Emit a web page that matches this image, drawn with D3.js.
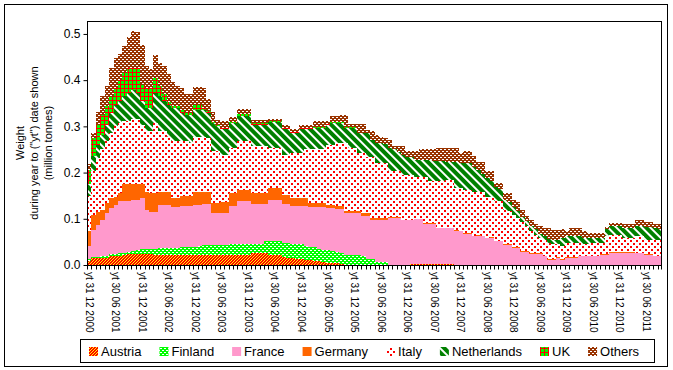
<!DOCTYPE html>
<html lang="en">
<head>
<meta charset="UTF-8">
<title>Weight during year to date</title>
<script src="https://cdn.jsdelivr.net/npm/d3@7"></script>
<style>
    body { margin: 0; background: #fff; }
    text { font-family: Arial, "Liberation Sans", sans-serif; fill: #000; }
</style>
</head>
<body>
<div id="chart"></div>
<script>
    // monthly values in thousand tonnes, yt Dec 2000 .. yt Sep 2011 (130 months)
    var austria = [9,15,15,15,15,20,20,20,21,24,24,24,24,
        24,23,22,22,22,22,22,22,22,22,22,22,22,22,22,
        22,22,22,22,22,22,22,22,22,
        26,26,26,26,
        21,21,21,
        18,16,15,14,13,11,10,9,8,6,
        4,4,4,3,
        0,0,0,0,0,0,0,0,0,0,0,0,0,0,0,
        3,3,3,3,3,3,3,3,3,3,
        0,0,0,0,0,0,0,0,0,0,
        0,0,0,0,0,0,0,0,0,0,
        0,0,0,0,0,0,0,0,0,0,
        0,0,0,0,0,0,0,0,0,0,
        0,0,0,0,0,0,0];
    var finland = [3,3,3,4,4,4,4,5,5,5,6,9,11,
        11,12,13,14,14,15,15,15,16,16,16,18,20,22,22,
        22,22,22,22,
        24,24,24,24,24,
        20,20,20,
        25,
        30,30,30,
        30,32,31,32,32,31,30,29,27,27,
        28,26,24,23,
        22,22,22,22,
        19,13,13,6,6,6,
        0,0,0,0,0,0,0,0,0,0,
        0,0,0,0,0,0,0,0,0,0,
        0,0,0,0,0,0,0,0,0,0,
        0,0,0,0,0,0,0,0,0,0,
        0,0,0,0,0,0,0,0,0,0,
        0,0,0,0,0,0,0,0,0,0,
        0,0];
    var france = [30,58,69,79,93,99,106,113,112,109,110,107,111,
        85,80,80,94,94,93,88,88,89,89,89,90,88,88,89,
        69,69,69,69,
        82,82,
        92,92,92,
        87,87,87,
        82,
        89,89,89,
        85,85,82,82,83,86,86,88,91,93,
        91,93,94,96,
        91,91,91,91,
        86,92,85,92,92,92,
        102,102,102,97,97,
        94,96,96,86,86,86,77,77,77,77,
        73,73,68,68,62,62,62,58,58,51,51,
        44,44,37,37,29,29,24,24,24,19,11,11,16,
        11,16,16,16,19,19,19,19,19,22,22,27,27,27,27,27,27,26,26,22,22,19,19];
    var germany = [32,33,28,22,22,22,18,18,37,37,35,35,30,
        39,41,41,29,29,29,20,20,23,23,23,29,29,27,24,
        21,21,23,23,
        28,28,
        25,25,25,
        23,23,23,23,
        27,27,27,
        19,19,17,17,17,17,8,8,8,8,
        7,7,6,6,
        4,4,4,4,
        8,8,4,4,4,4,
        1,1,1,1,1,1,1,1,1,1,1,1,1,1,1,
        2,1,1,2,1,2,1,1,2,1,1,
        1,1,1,1,1,1,1,1,1,1,
        1,1,1,1,1,1,1,1,1,1,
        1,1,1,1,1,1,1,1,1,1,
        1,1,1,1,1,1];
    var italy = [76,94,117,130,134,141,152,151,136,136,142,142,128,
        130,133,151,130,130,119,123,123,118,118,115,119,119,119,118,
        112,112,103,103,
        97,97,
        105,105,105,
        101,101,101,101,
        86,86,86,
        87,87,97,97,97,105,116,116,116,116,
        130,130,136,136,
        147,136,136,125,
        129,121,132,119,119,119,
        100,100,100,97,97,
        97,90,90,100,91,91,100,100,104,104,
        92,93,94,93,96,95,96,89,88,86,86,
        73,71,71,64,62,54,49,41,33,34,36,34,29,
        30,31,31,31,28,26,26,27,27,24,39,38,38,38,30,30,30,35,35,32,32,35,35];
    var netherlands = [25,32,28,32,36,43,47,47,54,61,62,55,50,
        51,51,65,76,65,69,72,72,61,57,60,58,58,58,55,
        61,54,55,55,
        54,54,
        55,55,55,
        47,47,47,47,
        56,56,56,
        55,55,44,44,52,44,44,47,47,47,
        44,47,43,43,
        33,44,44,44,
        44,52,37,44,44,41,
        50,47,42,43,39,
        39,38,38,38,47,43,43,43,37,37,
        55,54,58,58,53,47,37,40,33,30,26,
        22,20,16,14,12,11,11,11,10,9,9,9,9,
        16,14,14,14,14,12,12,11,11,11,16,19,19,19,22,22,22,23,23,28,28,25,23];
    var uk = [30,40,44,43,39,34,36,47,51,54,47,54,36,
        43,43,33,22,15,5,5,5,6,5,5,11,11,4,3,
        3,2,
        3,3,3,3,3,3,3,3,3,3,3,3,3,3,3,3,
        2,2,2,2,2,2,2,2,2,2,2,2,2,2,2,
        0,0,0,0,0,0,0,0,0,0,
        0,0,0,0,0,0,0,0,0,0,
        0,0,0,0,0,0,0,0,0,0,
        0,0,0,0,0,0,0,0,0,0,
        0,0,0,0,0,0,0,0,0,0,
        0,0,0,0,0,0,0,0,0,0,
        0,0,0,0,0,0,0,0,0];
    var others = [14,11,27,40,44,63,65,56,57,67,80,78,85,
        47,42,50,50,61,61,52,42,48,39,39,39,39,43,27,
        22,11,14,14,
        10,10,
        12,12,12,
        7,7,7,7,
        5,5,5,
        7,7,6,6,8,8,8,12,12,12,
        5,13,13,16,
        26,7,7,20,
        20,6,18,17,11,12,
        18,7,12,19,12,
        12,18,22,22,22,26,29,29,31,31,
        31,21,25,25,23,16,26,15,22,9,13,
        15,20,15,20,14,10,12,11,16,16,22,21,21,
        20,11,18,18,18,15,11,11,11,11,4,6,6,6,8,8,8,12,12,10,10,8,10];

    var countries = ["Austria", "Finland", "France", "Germany", "Italy", "Netherlands", "UK", "Others"];
    var seriesValues = [austria, finland, france, germany, italy, netherlands, uk, others];
    var patternIds = ["p-austria", "p-finland", "p-france", "p-germany", "p-italy", "p-netherlands", "p-uk", "p-others"];

    var tickLabels = ["yt 31 12 2000", "yt 30 06 2001", "yt 31 12 2001", "yt 30 06 2002",
        "yt 31 12 2002", "yt 30 06 2003", "yt 31 12 2003", "yt 30 06 2004",
        "yt 31 12 2004", "yt 30 06 2005", "yt 31 12 2005", "yt 30 06 2006",
        "yt 31 12 2006", "yt 30 06 2007", "yt 31 12 2007", "yt 30 06 2008",
        "yt 31 12 2008", "yt 30 06 2009", "yt 31 12 2009", "yt 30 06 2010",
        "yt 31 12 2010", "yt 30 06 2011"];
    var yTicks = [0, 100, 200, 300, 400, 500];

    var fmtMonth = d3.timeFormat("%Y-%m");
    var months = d3.timeMonth.range(new Date(2000, 11, 1), new Date(2011, 9, 1)).map(fmtMonth);

    var table = months.map(function (m, i) {
        var row = { month: m };
        countries.forEach(function (c, k) { row[c] = seriesValues[k][i]; });
        return row;
    });

    var W = 673, H = 370;
    var plot = { left: 87, right: 662, top: 21, bottom: 265 };

    var svg = d3.select("#chart").append("svg")
        .attr("width", W)
        .attr("height", H);

    svg.append("rect").attr("width", W).attr("height", H).attr("fill", "#fff");

    // fill patterns
    var defs = svg.append("defs");
    function pattern(id, w, h, bg) {
        var p = defs.append("pattern")
            .attr("id", id)
            .attr("patternUnits", "userSpaceOnUse")
            .attr("width", w)
            .attr("height", h);
        p.append("rect").attr("width", w).attr("height", h).attr("fill", bg);
        return p;
    }
    pattern("p-austria", 3, 3, "#ff0000").append("path")
        .attr("d", "M0,2h1v1h-1z M1,1h1v1h-1z M2,0h1v1h-1z")
        .attr("fill", "#ffff00");
    var pf = pattern("p-finland", 4, 4, "#00ff00");
    pf.append("rect").attr("x", 0).attr("y", 0).attr("width", 2).attr("height", 1).attr("fill", "#fff");
    pf.append("rect").attr("x", 2).attr("y", 2).attr("width", 2).attr("height", 1).attr("fill", "#fff");
    pattern("p-france", 4, 4, "#ff99cc");
    pattern("p-germany", 4, 4, "#ff6600");
    var pi = pattern("p-italy", 6, 6, "#ffffff");
    pi.append("rect").attr("x", 0).attr("y", 0).attr("width", 2).attr("height", 2).attr("fill", "#ff0000");
    pi.append("rect").attr("x", 3).attr("y", 3).attr("width", 2).attr("height", 2).attr("fill", "#ff0000");
    var pn = pattern("p-netherlands", 6, 6, "#ffffff")
        .attr("patternTransform", "rotate(-45)");
    pn.append("rect").attr("width", 4).attr("height", 6).attr("fill", "#008000");
    pattern("p-uk", 4, 4, "#ff0000").append("rect")
        .attr("x", 1).attr("y", 1).attr("width", 3).attr("height", 3).attr("fill", "#00ff00");
    var po = pattern("p-others", 4, 4, "#993300");
    po.append("rect").attr("x", 0).attr("y", 1).attr("width", 2).attr("height", 1).attr("fill", "#fff");
    po.append("rect").attr("x", 2).attr("y", 3).attr("width", 2).attr("height", 1).attr("fill", "#fff");

    // outer frame
    svg.append("rect")
        .attr("x", 4.5).attr("y", 4.5)
        .attr("width", 663).attr("height", 362)
        .attr("fill", "none").attr("stroke", "#000");

    var x = d3.scaleBand()
        .domain(months)
        .range([plot.left, plot.right])
        .paddingInner(0).paddingOuter(0);

    var y = d3.scaleLinear()
        .domain([0, 528])
        .range([plot.bottom, plot.top]);

    var stack = d3.stack().keys(countries);
    var layers = stack(table);

    var area = d3.area()
        .x(function (p) { return p.x; })
        .y0(function (p) { return y(p.v0); })
        .y1(function (p) { return y(p.v1); });

    layers.forEach(function (layer, k) {
        var pts = [];
        layer.forEach(function (d) {
            var x0 = x(d.data.month);
            pts.push({ x: x0, v0: d[0], v1: d[1] });
            pts.push({ x: x0 + x.bandwidth(), v0: d[0], v1: d[1] });
        });
        svg.append("path")
            .datum(pts)
            .attr("d", area)
            .attr("fill", "url(#" + patternIds[k] + ")")
            .attr("shape-rendering", "crispEdges");
    });

    // plot frame
    svg.append("rect")
        .attr("x", plot.left + 0.5).attr("y", plot.top + 0.5)
        .attr("width", plot.right - plot.left - 1).attr("height", plot.bottom - plot.top)
        .attr("fill", "none").attr("stroke", "#000");

    // y axis
    var yAxis = d3.axisLeft(y)
        .tickValues(yTicks)
        .tickFormat(function (d) { return (d / 1000).toFixed(1); })
        .tickSize(4)
        .tickPadding(3);
    var gy = svg.append("g")
        .attr("transform", "translate(" + (plot.left + 0.5) + ",0)")
        .call(yAxis);
    gy.select(".domain").remove();
    gy.selectAll("line").attr("stroke", "#000");
    gy.selectAll("text").style("font-size", "12px");

    // x axis: monthly tick marks on band edges
    var gxTicks = svg.append("g")
        .attr("transform", "translate(0," + (plot.bottom + 0.5) + ")");
    gxTicks.selectAll("line")
        .data(months.concat(["end"]))
        .join("line")
        .attr("x1", function (d) { return d === "end" ? plot.right - 0.5 : Math.round(x(d)) + 0.5; })
        .attr("x2", function (d) { return d === "end" ? plot.right - 0.5 : Math.round(x(d)) + 0.5; })
        .attr("y1", 0).attr("y2", 4)
        .attr("stroke", "#000");

    var labelMonths = months.filter(function (m, i) { return i % 6 === 0; });
    var xAxis = d3.axisBottom(x)
        .tickValues(labelMonths)
        .tickSize(0)
        .tickFormat(function (d, i) { return tickLabels[i]; });
    var gx = svg.append("g")
        .attr("transform", "translate(0," + plot.bottom + ")")
        .call(xAxis);
    gx.select(".domain").remove();
    gx.selectAll("text")
        .style("font-size", "10px")
        .attr("transform", "rotate(90)")
        .attr("x", 7)
        .attr("y", 0)
        .attr("dy", "0.35em")
        .style("text-anchor", "start");

    // y title
    var yTitle = ["Weight", "during year to (\"yt\") date shown", "(million tonnes)"];
    var yTitleX = [24, 38, 52];
    yTitle.forEach(function (t, i) {
        svg.append("text")
            .attr("transform", "translate(" + yTitleX[i] + ",143) rotate(-90)")
            .attr("text-anchor", "middle")
            .style("font-size", "11px")
            .text(t);
    });

    // legend
    var legend = svg.append("g");
    legend.append("rect")
        .attr("x", 80.5).attr("y", 339.5)
        .attr("width", 574).attr("height", 23)
        .attr("fill", "#fff").attr("stroke", "#000");
    var lx = 89;
    countries.forEach(function (c, k) {
        legend.append("rect")
            .attr("x", lx).attr("y", 347)
            .attr("width", 9).attr("height", 9)
            .attr("fill", "url(#" + patternIds[k] + ")");
        var t = legend.append("text")
            .attr("x", lx + 12).attr("y", 356)
            .style("font-size", "13px")
            .text(c);
        lx += 12 + t.node().getComputedTextLength() + 18;
    });
</script>
</body>
</html>
